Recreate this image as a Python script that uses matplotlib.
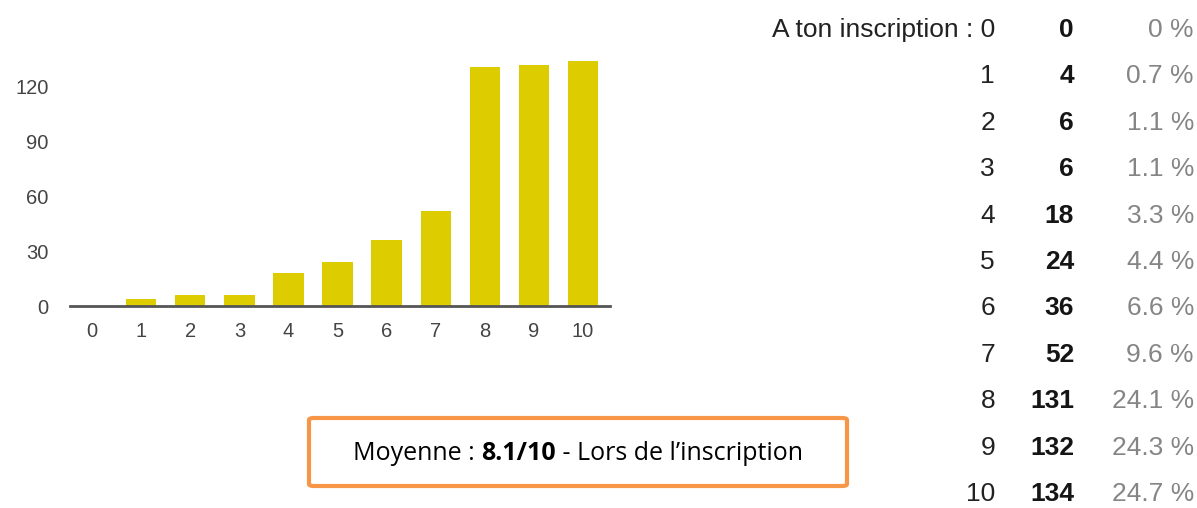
import matplotlib
matplotlib.use("Agg")
import matplotlib.pyplot as plt
from matplotlib.patches import FancyBboxPatch

categories = [0, 1, 2, 3, 4, 5, 6, 7, 8, 9, 10]
counts = [0, 4, 6, 6, 18, 24, 36, 52, 131, 132, 134]
percents = [0, 0.7, 1.1, 1.1, 3.3, 4.4, 6.6, 9.6, 24.1, 24.3, 24.7]
yticks = [0, 30, 60, 90, 120]
first_label_prefix = "A ton inscription : "
mean_value = "8.1/10"
box_before = "Moyenne : "
box_after = " - Lors de l\u2019inscription"

W, H = 1197, 508
fig = plt.figure(figsize=(W / 100, H / 100), dpi=100)
fig.patch.set_facecolor("white")

FONT = "Liberation Sans"

# bar chart axes (pixel placement)
x0, x1 = 70, 610
ybase, ytop = 306, 306 - 140 * 1.825
ax = fig.add_axes([x0 / W, 1 - ybase / H, (x1 - x0) / W, (ybase - ytop) / H])
ax.bar(categories, counts, width=0.62, color="#DCCC00", zorder=2)
ax.set_xlim(-0.45, 10.55)
ax.set_ylim(0, 140)
for s in ["top", "right", "left"]:
    ax.spines[s].set_visible(False)
ax.spines["bottom"].set_color("#555555")
ax.spines["bottom"].set_linewidth(2)
ax.spines["bottom"].set_zorder(3)
ax.set_xticks(categories)
ax.set_xticklabels([str(c) for c in categories])
ax.set_yticks(yticks)
ax.tick_params(axis="both", length=0, labelsize=14.5, labelcolor="#444444")
ax.tick_params(axis="x", pad=11.5)
ax.tick_params(axis="y", pad=15.5)
for lab in ax.get_xticklabels() + ax.get_yticklabels():
    lab.set_fontfamily(FONT)

# table on the right
row_base0, row_dy = 37.0, 46.4
for i, (c, n, p) in enumerate(zip(categories, counts, percents)):
    y = 1 - (row_base0 + i * row_dy) / H
    label = (first_label_prefix if i == 0 else "") + str(c)
    fig.text(995 / W, y, label, ha="right", va="baseline", fontsize=19,
             family=FONT, color="#222222")
    fig.text(1074 / W, y, str(n), ha="right", va="baseline", fontsize=19,
             family=FONT, color="#151515", fontweight="bold")
    fig.text(1194 / W, y, f"{p:g} %", ha="right", va="baseline", fontsize=19,
             family=FONT, color="#858585")

# orange box
bx0, bx1, by0, by1 = 309, 847, 418, 486
box = FancyBboxPatch((bx0 / W, 1 - by1 / H), (bx1 - bx0) / W, (by1 - by0) / H,
                     boxstyle="round,pad=0,rounding_size=0.004",
                     transform=fig.transFigure, facecolor="white",
                     edgecolor="#F79646", linewidth=3)
fig.patches.append(box)

fig.canvas.draw()
r = fig.canvas.get_renderer()
BFONT = "Open Sans"
bfs = 18
parts = [(box_before, "normal"), (mean_value, "bold"), (box_after, "normal")]
texts = []
widths = []
for s, w in parts:
    t = fig.text(0, 0, s, fontsize=bfs, family=BFONT, fontweight=w, color="black")
    bb = t.get_window_extent(renderer=r)
    texts.append(t)
    widths.append(bb.width)
total = sum(widths)
cx = (bx0 + bx1) / 2
cy = 1 - 460 / H
xs = cx - total / 2
for t, w in zip(texts, widths):
    t.set_position((xs / W, cy))
    t.set_va("baseline")
    t.set_ha("left")
    xs += w

fig.savefig("out.png", dpi=100, facecolor="white")
